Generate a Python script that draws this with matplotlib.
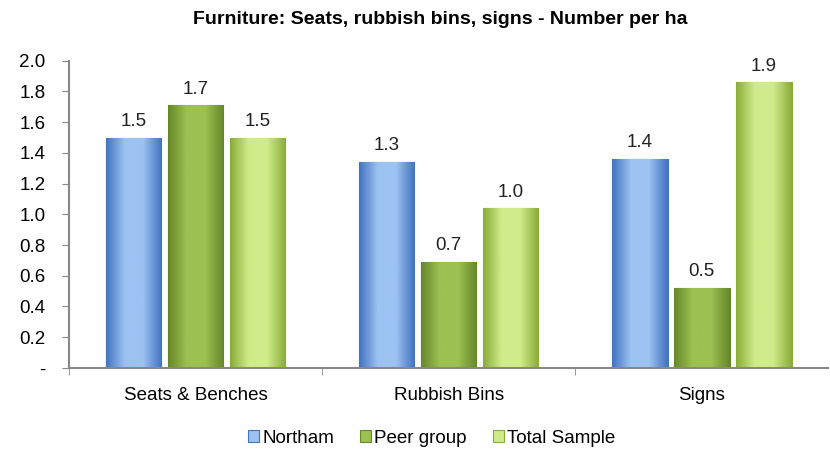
import numpy as np
import matplotlib
matplotlib.use("Agg")
import matplotlib.pyplot as plt
from matplotlib.colors import LinearSegmentedColormap

plt.rcParams['font.family'] = ['Liberation Sans', 'DejaVu Sans']

categories = ['Seats & Benches', 'Rubbish Bins', 'Signs']
series = ['Northam', 'Peer group', 'Total Sample']
northam = [1.50, 1.34, 1.36]
peer = [1.71, 0.69, 0.52]
total = [1.50, 1.04, 1.86]
yticks = [0, 0.2, 0.4, 0.6, 0.8, 1.0, 1.2, 1.4, 1.6, 1.8, 2.0]

# (edge colour, centre colour) for each series
shades = [('#4274c0', '#9cc2f2'), ('#66882a', '#9dc052'), ('#8aad3a', '#d0ec8a')]

fig = plt.figure(figsize=(8.3, 4.57), dpi=100)
ax = fig.add_axes([0.083, 0.195, 0.915, 0.672])

x = np.arange(len(categories))
step = 0.245
width = 0.22
for i, (name, vals) in enumerate(zip(series, [northam, peer, total])):
    edge, mid = shades[i]
    bars = ax.bar(x + (i - 1) * step, vals, width, color=mid, edgecolor=edge,
                  linewidth=0.8, label=name, zorder=2)
    cmap = LinearSegmentedColormap.from_list('g%d' % i, [edge, mid, mid, edge])
    grad = np.linspace(0, 1, 64).reshape(1, -1)
    for b, v in zip(bars, vals):
        bx, by = b.get_x(), b.get_y()
        im = ax.imshow(grad, cmap=cmap, aspect='auto', zorder=2.5,
                       extent=(bx, bx + b.get_width(), by, by + b.get_height()))
        im.set_clip_path(b)
        ax.text(b.get_x() + b.get_width() / 2, v + 0.05, '%.1f' % v,
                ha='center', va='bottom', fontsize=13.5, color='#222222')

ax.set_xlim(-0.5, 2.5)
ax.set_ylim(0, 2.0)
ax.set_yticks(yticks)
ax.set_yticklabels(['-'] + ['%.1f' % t for t in yticks[1:]], fontsize=13.5)
ax.set_xticks(x)
ax.set_xticklabels(categories, fontsize=13.5)
ax.set_xticks([-0.5, 0.5, 1.5], minor=True)
ax.tick_params(axis='x', which='major', length=0, pad=14)
ax.tick_params(axis='x', which='minor', length=5, color='#888888', direction='out')
ax.tick_params(axis='y', length=5, color='#888888', direction='out', pad=12)
for s in ['top', 'right']:
    ax.spines[s].set_visible(False)
for s in ['left', 'bottom']:
    ax.spines[s].set_color('#888888')
    ax.spines[s].set_linewidth(1.5)

fig.suptitle('Furniture: Seats, rubbish bins, signs - Number per ha',
             x=0.53, y=0.975, fontsize=14, fontweight='bold')

fig.legend(loc='lower center', bbox_to_anchor=(0.52, -0.015), ncol=3, frameon=False,
           fontsize=13.5, handlelength=0.6, handleheight=0.6, handletextpad=0.15,
           columnspacing=1.4)

fig.savefig('out.png', dpi=100)
